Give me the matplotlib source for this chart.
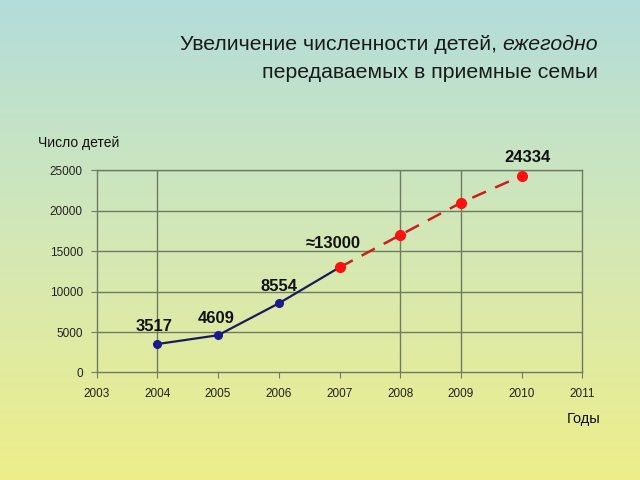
import numpy as np
import matplotlib.pyplot as plt
from matplotlib.colors import LinearSegmentedColormap

# --- Data ---
years_actual = [2004, 2005, 2006, 2007]
kids_actual = [3517, 4609, 8554, 13000]
years_forecast = [2007, 2008, 2009, 2010]
kids_forecast = [13000, 17000, 21000, 24334]
labels_actual = ['3517', '4609', '8554', '\u224813000']
label_offsets = [(-3, 18), (-2, 17), (0, 17), (-6, 24)]
x_ticks = list(range(2003, 2012))
y_ticks = [0, 5000, 10000, 15000, 20000, 25000]
v_grid_years = [2004, 2008, 2009]

plt.rcParams['font.family'] = ['Liberation Sans', 'DejaVu Sans']

fig = plt.figure(figsize=(6.4, 4.8), dpi=100)

# --- Background gradient ---
bg = fig.add_axes([0, 0, 1, 1], zorder=-10)
cmap = LinearSegmentedColormap.from_list('bg', ['#b3ddda', '#d4e8b6', '#eeee8a'])
grad = np.linspace(0, 1, 256).reshape(-1, 1)
bg.imshow(grad, aspect='auto', cmap=cmap, extent=[0, 1, 0, 1])
bg.set_axis_off()

# --- Chart ---
ax = fig.add_axes([0.151, 0.224, 0.759, 0.421])
ax.patch.set_alpha(0)
grid_c = '#6f7a63'

ax.plot(years_actual, kids_actual, color='#1b1b5c', lw=1.6, zorder=3)
ax.plot(years_actual[:-1], kids_actual[:-1], 'o', color='#1a1a8c', ms=5.5, zorder=4)
ax.plot(years_forecast, kids_forecast, color='#c8201e', lw=1.8,
        dashes=(6, 4), zorder=3)
ax.plot(years_forecast, kids_forecast, 'o', color='#ff1010', ms=7, zorder=4)

for x, y, t, off in zip(years_actual, kids_actual, labels_actual, label_offsets):
    ax.annotate(t, (x, y), xytext=off, textcoords='offset pixels', ha='center',
                va='center', fontsize=12, fontweight='bold', color='#111111')
ax.annotate(str(kids_forecast[-1]), (years_forecast[-1], kids_forecast[-1]),
            xytext=(6, 18), textcoords='offset pixels', ha='center', va='center',
            fontsize=12, fontweight='bold', color='#111111')

ax.set_xlim(2003, 2011)
ax.set_ylim(0, 25000)
ax.set_xticks(x_ticks)
ax.set_yticks(y_ticks)
ax.tick_params(axis='both', labelsize=8.5, colors='#222222', length=4,
               width=0.8, color=grid_c, pad=6)
ax.tick_params(axis='x', pad=7)
for y in y_ticks[1:]:
    ax.axhline(y, color=grid_c, lw=1, zorder=1)
for x in v_grid_years:
    ax.axvline(x, color=grid_c, lw=1, zorder=1)
for s in ax.spines.values():
    s.set_color(grid_c)
    s.set_linewidth(1)

fig.text(38 / 640, 1 - 143 / 480, 'Число детей', fontsize=10, va='center',
         ha='left', color='#111111')
fig.text(600 / 640, 1 - 419 / 480, 'Годы', fontsize=10.5, va='center',
         ha='right', color='#111111')

# --- Title (mixed normal/italic) ---
right = 598 / 640
it = fig.text(right, 1 - 45 / 480, 'ежегодно', fontsize=15.3, style='italic',
              ha='right', va='center', color='#1a1a1a')
fig.canvas.draw()
w = it.get_window_extent().width / fig.bbox.width
fig.text(right - w, 1 - 45 / 480, 'Увеличение численности детей,\u00a0',
         fontsize=15.3, ha='right', va='center', color='#1a1a1a')
fig.text(right, 1 - 72 / 480, 'передаваемых в приемные семьи', fontsize=15.3,
         ha='right', va='center', color='#1a1a1a')

fig.savefig('out.png', dpi=100)
